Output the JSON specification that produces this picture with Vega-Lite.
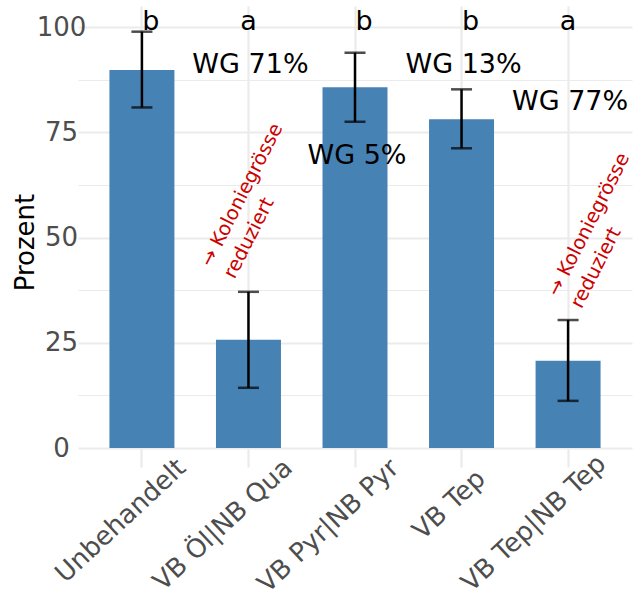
{
  "$schema": "https://vega.github.io/schema/vega-lite/v6.json",
  "width": 554,
  "height": 442,
  "autosize": {"type": "none"},
  "padding": {"left": 78, "top": 6, "right": 12, "bottom": 151},
  "background": "white",
  "config": {"view": {"stroke": null}, "font": "DejaVu Sans"},
  "datasets": {
    "bars": [
      {"Behandlung": "Unbehandelt", "Prozent": 89.8, "lo": 80.9, "hi": 98.9},
      {"Behandlung": "VB Öl|NB Qua", "Prozent": 25.7, "lo": 14.3, "hi": 37.1},
      {"Behandlung": "VB Pyr|NB Pyr", "Prozent": 85.7, "lo": 77.5, "hi": 93.9},
      {"Behandlung": "VB Tep", "Prozent": 78.1, "lo": 71.2, "hi": 85.2},
      {"Behandlung": "VB Tep|NB Tep", "Prozent": 20.7, "lo": 11.2, "hi": 30.4}
    ],
    "letters": [
      {"Behandlung": "Unbehandelt", "Buchstabe": "b", "y": 99.2},
      {"Behandlung": "VB Öl|NB Qua", "Buchstabe": "a", "y": 99.2},
      {"Behandlung": "VB Pyr|NB Pyr", "Buchstabe": "b", "y": 99.2},
      {"Behandlung": "VB Tep", "Buchstabe": "b", "y": 99.2},
      {"Behandlung": "VB Tep|NB Tep", "Buchstabe": "a", "y": 99.2}
    ],
    "wg": [
      {"Behandlung": "VB Öl|NB Qua", "label": "WG 71%", "y": 89.1},
      {"Behandlung": "VB Pyr|NB Pyr", "label": "WG 5%", "y": 67.5},
      {"Behandlung": "VB Tep", "label": "WG 13%", "y": 89.1},
      {"Behandlung": "VB Tep|NB Tep", "label": "WG 77%", "y": 80.3}
    ],
    "notes": [
      {"Behandlung": "VB Öl|NB Qua", "label": "→ Koloniegrösse\nreduziert", "y": 42.8},
      {"Behandlung": "VB Tep|NB Tep", "label": "→ Koloniegrösse\nreduziert", "y": 35.6}
    ]
  },
  "encoding": {
    "x": {
      "field": "Behandlung",
      "type": "nominal",
      "sort": ["Unbehandelt", "VB Öl|NB Qua", "VB Pyr|NB Pyr", "VB Tep", "VB Tep|NB Tep"],
      "scale": {"paddingInner": 0.39, "paddingOuter": 0.295},
      "axis": {
        "title": null,
        "labelAngle": -43,
        "labelAlign": "right",
        "labelBaseline": "top",
        "labelFontSize": 26,
        "labelColor": "#4D4D4D",
        "labelOffset": {"condition": [{"test": "datum.value === 'VB Tep'", "value": 11}, {"test": "datum.value === 'VB Tep|NB Tep'", "value": 25}], "value": 31},
        "labelPadding": {"condition": [{"test": "datum.value === 'VB Tep'", "value": -2}, {"test": "datum.value === 'VB Tep|NB Tep'", "value": -17}], "value": -13},
        "labelOverlap": false,
        "labelLimit": 0,
        "labelFlush": false,
        "ticks": true,
        "tickSize": 19,
        "tickWidth": 2.2,
        "tickColor": "#EBEBEB",
        "domain": false,
        "grid": true,
        "gridColor": "#EBEBEB",
        "gridWidth": 2.2
      }
    }
  },
  "layer": [
    {
      "data": {"name": "bars"},
      "mark": {"type": "bar", "color": "#4682B4"},
      "encoding": {
        "y": {
          "field": "Prozent",
          "type": "quantitative",
          "scale": {"domain": [0, 105], "nice": false, "zero": true},
          "axis": {
            "title": "Prozent",
            "values": [0, 12.5, 25, 37.5, 50, 62.5, 75, 87.5, 100],
            "labelExpr": "datum.value % 25 === 0 ? datum.label : ''",
            "ticks": false,
            "domain": false,
            "grid": true,
            "gridColor": "#EBEBEB",
            "gridWidth": {"condition": {"test": "datum.value % 25 === 0", "value": 2.2}, "value": 1.1},
            "labelAlign": "center",
            "labelBaseline": "middle",
            "labelPadding": 17,
            "labelFontSize": 26,
            "labelColor": "#4D4D4D",
            "titleFontSize": 26,
            "titleColor": "black",
            "titleFontWeight": "normal",
            "titleAngle": -90,
            "titleAlign": "center",
            "titleBaseline": "middle",
            "titleX": -53,
            "titleY": 236
          }
        }
      }
    },
    {
      "data": {"name": "bars"},
      "mark": {"type": "rule", "color": "black", "strokeWidth": 2.5},
      "encoding": {
        "y": {"field": "lo", "type": "quantitative"},
        "y2": {"field": "hi"}
      }
    },
    {
      "data": {"name": "bars"},
      "mark": {"type": "tick", "color": "black", "size": 21, "thickness": 2.5, "orient": "horizontal"},
      "encoding": {"y": {"field": "lo", "type": "quantitative"}}
    },
    {
      "data": {"name": "bars"},
      "mark": {"type": "tick", "color": "black", "size": 21, "thickness": 2.5, "orient": "horizontal"},
      "encoding": {"y": {"field": "hi", "type": "quantitative"}}
    },
    {
      "data": {"name": "letters"},
      "transform": [{"filter": "datum.Buchstabe === 'b'"}],
      "mark": {"type": "text", "fontSize": 27, "color": "black", "baseline": "alphabetic", "align": "center", "dx": 9},
      "encoding": {
        "y": {"field": "y", "type": "quantitative"},
        "text": {"field": "Buchstabe"}
      }
    },
    {
      "data": {"name": "letters"},
      "transform": [{"filter": "datum.Buchstabe === 'a'"}],
      "mark": {"type": "text", "fontSize": 27, "color": "black", "baseline": "alphabetic", "align": "center"},
      "encoding": {
        "y": {"field": "y", "type": "quantitative"},
        "text": {"field": "Buchstabe"}
      }
    },
    {
      "data": {"name": "wg"},
      "mark": {"type": "text", "fontSize": 27, "color": "black", "baseline": "alphabetic", "align": "center", "dx": 2},
      "encoding": {
        "y": {"field": "y", "type": "quantitative"},
        "text": {"field": "label"}
      }
    },
    {
      "data": {"name": "notes"},
      "transform": [{"filter": "datum.Behandlung === 'VB Öl|NB Qua'"}],
      "mark": {"type": "text", "fontSize": 19.5, "color": "#CD0000", "baseline": "alphabetic", "align": "left", "angle": 297, "lineBreak": "\n", "lineHeight": 26, "dx": -17, "dy": -33},
      "encoding": {
        "y": {"field": "y", "type": "quantitative"},
        "text": {"field": "label"}
      }
    },
    {
      "data": {"name": "notes"},
      "transform": [{"filter": "datum.Behandlung === 'VB Tep|NB Tep'"}],
      "mark": {"type": "text", "fontSize": 19.5, "color": "#CD0000", "baseline": "alphabetic", "align": "left", "angle": 297, "lineBreak": "\n", "lineHeight": 26, "dx": -4, "dy": -9},
      "encoding": {
        "y": {"field": "y", "type": "quantitative"},
        "text": {"field": "label"}
      }
    }
  ]
}
